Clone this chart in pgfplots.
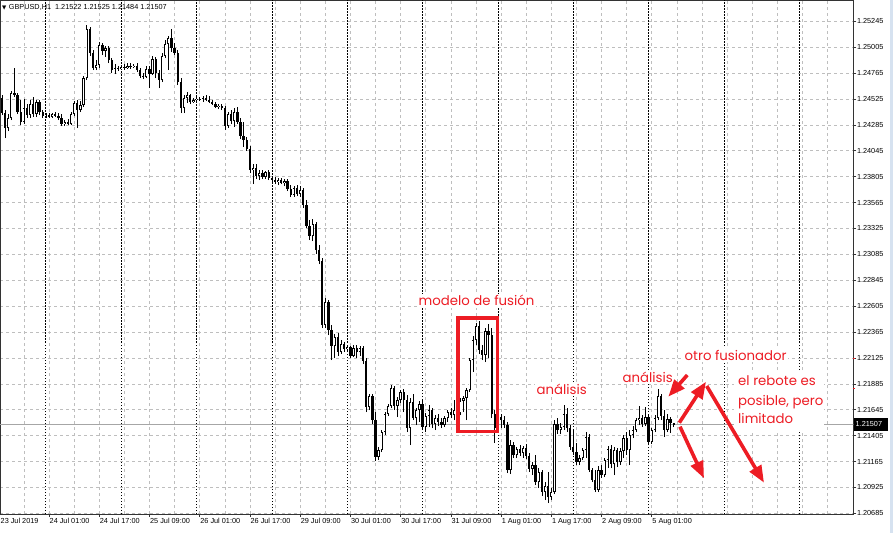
\documentclass[border=0pt]{standalone}
\usepackage{pgfplots}
\pgfplotsset{compat=1.18}
\usepackage{pgfplotstable}
\usepackage{fontspec}
\setmainfont{Liberation Sans}
\newfontfamily\pop{Poppins}
\newfontfamily\dejavu{DejaVu Sans}
\usetikzlibrary{arrows.meta}
\definecolor{mtred}{RGB}{237,28,36}
\definecolor{mtgrid}{RGB}{190,190,190}
\definecolor{winblue}{RGB}{214,226,240}

\pgfplotstableread{
i o h l c
-14 1.24534 1.24561 1.24376 1.24395
-13 1.24395 1.24422 1.24163 1.24255
-12 1.24255 1.24385 1.24228 1.24348
-11 1.24348 1.24598 1.24330 1.24580
-10 1.24580 1.24812 1.24543 1.24561
-9 1.24561 1.24580 1.24385 1.24404
-8 1.24404 1.24515 1.24283 1.24311
-7 1.24311 1.24524 1.24293 1.24441
-6 1.24441 1.24478 1.24348 1.24376
-5 1.24376 1.24515 1.24348 1.24478
-4 1.24478 1.24543 1.24357 1.24385
-3 1.24385 1.24515 1.24357 1.24496
-2 1.24496 1.24515 1.24376 1.24404
-1 1.24404 1.24422 1.24348 1.24367
0 1.24367 1.24395 1.24348 1.24376
1 1.24376 1.24395 1.24348 1.24357
2 1.24357 1.24395 1.24348 1.24385
3 1.24385 1.24404 1.24357 1.24367
4 1.24367 1.24395 1.24330 1.24348
5 1.24348 1.24385 1.24274 1.24293
6 1.24293 1.24330 1.24274 1.24311
7 1.24311 1.24339 1.24283 1.24293
8 1.24293 1.24404 1.24283 1.24385
9 1.24385 1.24506 1.24367 1.24487
10 1.24487 1.24515 1.24255 1.24422
11 1.24422 1.24506 1.24404 1.24469
12 1.24469 1.24737 1.24450 1.24719
13 1.24719 1.25210 1.24700 1.25173
14 1.25173 1.25192 1.24923 1.24951
15 1.24951 1.24979 1.24793 1.24812
16 1.24812 1.24886 1.24793 1.24839
17 1.24839 1.25053 1.24812 1.25025
18 1.25025 1.25043 1.24932 1.24969
19 1.24969 1.25016 1.24914 1.24997
20 1.24997 1.25016 1.24858 1.24886
21 1.24886 1.24904 1.24765 1.24793
22 1.24793 1.24849 1.24756 1.24812
23 1.24812 1.24830 1.24784 1.24802
24 1.24802 1.24839 1.24793 1.24821
25 1.24821 1.24849 1.24793 1.24812
26 1.24812 1.24858 1.24802 1.24830
27 1.24830 1.24858 1.24802 1.24821
28 1.24821 1.24849 1.24812 1.24830
29 1.24830 1.24858 1.24775 1.24793
30 1.24793 1.24812 1.24719 1.24737
31 1.24737 1.24765 1.24710 1.24728
32 1.24728 1.24830 1.24719 1.24802
33 1.24802 1.24830 1.24626 1.24756
34 1.24756 1.24923 1.24747 1.24895
35 1.24895 1.24914 1.24719 1.24765
36 1.24765 1.24793 1.24626 1.24700
37 1.24700 1.24951 1.24682 1.24923
38 1.24923 1.25071 1.24904 1.25034
39 1.25034 1.25108 1.24793 1.25090
40 1.25090 1.25173 1.24960 1.24997
41 1.24997 1.25043 1.24932 1.24951
42 1.24951 1.24979 1.24654 1.24682
43 1.24682 1.24719 1.24395 1.24441
44 1.24441 1.24561 1.24395 1.24534
45 1.24534 1.24589 1.24487 1.24561
46 1.24561 1.24571 1.24478 1.24496
47 1.24496 1.24534 1.24487 1.24515
48 1.24515 1.24543 1.24496 1.24524
49 1.24524 1.24543 1.24506 1.24515
50 1.24515 1.24552 1.24496 1.24534
51 1.24534 1.24561 1.24506 1.24515
52 1.24515 1.24552 1.24487 1.24496
53 1.24496 1.24515 1.24469 1.24478
54 1.24478 1.24496 1.24441 1.24450
55 1.24450 1.24478 1.24432 1.24459
56 1.24459 1.24478 1.24422 1.24441
57 1.24441 1.24459 1.24237 1.24274
58 1.24274 1.24404 1.24255 1.24385
59 1.24385 1.24422 1.24293 1.24320
60 1.24320 1.24441 1.24265 1.24404
61 1.24404 1.24450 1.24293 1.24311
62 1.24311 1.24348 1.24153 1.24181
63 1.24181 1.24311 1.24079 1.24144
64 1.24144 1.24172 1.24042 1.24061
65 1.24061 1.24089 1.23838 1.23866
66 1.23866 1.23922 1.23736 1.23885
67 1.23885 1.23922 1.23783 1.23810
68 1.23810 1.23866 1.23773 1.23838
69 1.23838 1.23866 1.23783 1.23801
70 1.23801 1.23857 1.23783 1.23848
71 1.23848 1.23866 1.23773 1.23792
72 1.23792 1.23810 1.23755 1.23773
73 1.23773 1.23801 1.23736 1.23755
74 1.23755 1.23792 1.23727 1.23773
75 1.23773 1.23792 1.23736 1.23746
76 1.23746 1.23783 1.23718 1.23764
77 1.23764 1.23783 1.23671 1.23690
78 1.23690 1.23727 1.23616 1.23634
79 1.23634 1.23718 1.23616 1.23699
80 1.23699 1.23727 1.23625 1.23644
81 1.23644 1.23718 1.23616 1.23681
82 1.23681 1.23699 1.23514 1.23542
83 1.23542 1.23588 1.23328 1.23347
84 1.23347 1.23403 1.23217 1.23254
85 1.23254 1.23412 1.23208 1.23366
86 1.23366 1.23384 1.23087 1.23125
87 1.23125 1.23171 1.22995 1.23023
88 1.23023 1.23050 1.22401 1.22429
89 1.22429 1.22680 1.22401 1.22642
90 1.22642 1.22661 1.22337 1.22383
91 1.22383 1.22429 1.22105 1.22235
92 1.22235 1.22346 1.22123 1.22318
93 1.22318 1.22355 1.22142 1.22179
94 1.22179 1.22290 1.22160 1.22253
95 1.22253 1.22272 1.22179 1.22207
96 1.22207 1.22244 1.22188 1.22225
97 1.22225 1.22235 1.22123 1.22142
98 1.22142 1.22244 1.22133 1.22216
99 1.22216 1.22244 1.22123 1.22179
100 1.22179 1.22235 1.22142 1.22216
101 1.22216 1.22235 1.22068 1.22096
102 1.22096 1.22123 1.21623 1.21669
103 1.21669 1.21790 1.21641 1.21771
104 1.21771 1.21790 1.21512 1.21549
105 1.21549 1.21623 1.21169 1.21206
106 1.21206 1.21298 1.21178 1.21271
107 1.21271 1.21456 1.21252 1.21437
108 1.21437 1.21623 1.21410 1.21604
109 1.21604 1.21697 1.21586 1.21678
110 1.21678 1.21873 1.21660 1.21845
111 1.21845 1.21864 1.21641 1.21678
112 1.21678 1.21762 1.21576 1.21734
113 1.21734 1.21827 1.21706 1.21808
114 1.21808 1.21836 1.21623 1.21734
115 1.21734 1.21780 1.21437 1.21474
116 1.21474 1.21753 1.21317 1.21715
117 1.21715 1.21790 1.21549 1.21567
118 1.21567 1.21660 1.21502 1.21641
119 1.21641 1.21725 1.21530 1.21697
120 1.21697 1.21734 1.21456 1.21484
121 1.21484 1.21614 1.21437 1.21586
122 1.21586 1.21688 1.21484 1.21641
123 1.21641 1.21660 1.21474 1.21512
124 1.21512 1.21595 1.21456 1.21567
125 1.21567 1.21604 1.21493 1.21530
126 1.21530 1.21567 1.21474 1.21502
127 1.21502 1.21586 1.21484 1.21567
128 1.21567 1.21641 1.21530 1.21623
129 1.21623 1.21660 1.21567 1.21595
130 1.21595 1.21734 1.21549 1.21641
131 1.21641 1.21688 1.21586 1.21614
132 1.21614 1.21753 1.21595 1.21725
133 1.21725 1.21771 1.21623 1.21753
134 1.21753 1.21845 1.21549 1.21827
135 1.21827 1.22123 1.21808 1.22105
136 1.22105 1.22327 1.21994 1.22290
137 1.22290 1.22448 1.22244 1.22420
138 1.22420 1.22466 1.22160 1.22198
139 1.22198 1.22244 1.22105 1.22151
140 1.22151 1.22401 1.22086 1.22374
141 1.22374 1.22439 1.22123 1.22337
142 1.22337 1.22401 1.21567 1.21604
143 1.21604 1.21641 1.21335 1.21474
144 1.21474 1.21595 1.21456 1.21576
145 1.21576 1.21604 1.21474 1.21549
146 1.21549 1.21586 1.21474 1.21502
147 1.21502 1.21530 1.21057 1.21085
148 1.21085 1.21363 1.21048 1.21317
149 1.21317 1.21345 1.21196 1.21224
150 1.21224 1.21298 1.21196 1.21280
151 1.21280 1.21317 1.21215 1.21243
152 1.21243 1.21308 1.21196 1.21289
153 1.21289 1.21326 1.21187 1.21215
154 1.21215 1.21243 1.21067 1.21094
155 1.21094 1.21159 1.21039 1.21131
156 1.21131 1.21224 1.20946 1.20974
157 1.20974 1.21104 1.20918 1.21067
158 1.21067 1.21085 1.20844 1.20881
159 1.20881 1.20974 1.20807 1.20937
160 1.20937 1.21067 1.20779 1.20835
161 1.20835 1.20918 1.20807 1.20881
162 1.20881 1.21549 1.20863 1.21512
163 1.21512 1.21567 1.21419 1.21456
164 1.21456 1.21521 1.21419 1.21484
165 1.21484 1.21688 1.21456 1.21604
166 1.21604 1.21660 1.21437 1.21474
167 1.21474 1.21502 1.21271 1.21298
168 1.21298 1.21456 1.21224 1.21252
169 1.21252 1.21335 1.21131 1.21159
170 1.21159 1.21224 1.21131 1.21196
171 1.21196 1.21289 1.21178 1.21271
172 1.21271 1.21437 1.21196 1.21391
173 1.21391 1.21419 1.21067 1.21085
174 1.21085 1.21104 1.20974 1.20992
175 1.20992 1.21085 1.20881 1.20900
176 1.20900 1.21122 1.20881 1.21085
177 1.21085 1.21131 1.21011 1.21039
178 1.21039 1.21196 1.21020 1.21178
179 1.21178 1.21308 1.21104 1.21280
180 1.21280 1.21317 1.21104 1.21141
181 1.21141 1.21298 1.21039 1.21271
182 1.21271 1.21289 1.21113 1.21159
183 1.21159 1.21289 1.21131 1.21261
184 1.21261 1.21410 1.21196 1.21382
185 1.21382 1.21437 1.21224 1.21271
186 1.21271 1.21456 1.21131 1.21410
187 1.21410 1.21493 1.21382 1.21456
188 1.21456 1.21567 1.21437 1.21549
189 1.21549 1.21678 1.21502 1.21567
190 1.21567 1.21595 1.21484 1.21512
191 1.21512 1.21669 1.21493 1.21576
192 1.21576 1.21595 1.21317 1.21345
193 1.21345 1.21474 1.21326 1.21456
194 1.21456 1.21595 1.21437 1.21567
195 1.21567 1.21836 1.21549 1.21771
196 1.21771 1.21790 1.21549 1.21586
197 1.21586 1.21641 1.21391 1.21456
198 1.21456 1.21604 1.21437 1.21558
199 1.21558 1.21576 1.21428 1.21522
200 1.21522 1.21525 1.21484 1.21507
}\candles

\begin{document}
\begin{tikzpicture}
\begin{axis}[
  at={(0pt,0pt)}, anchor=south west, scale only axis,
  width=853.3pt, height=514pt,
  xmin=-14.61, xmax=257.2,
  ymin=1.206785, ymax=1.254424,
  axis line style={black!80, line width=0.8pt},
  tick label style={font=\fontsize{7.3}{8}\selectfont, text=black},
  ytick={1.20685,1.20925,1.21165,1.21405,1.21645,1.21885,1.22125,1.22365,1.22605,1.22845,1.23085,1.23325,1.23565,1.23805,1.24045,1.24285,1.24525,1.24765,1.25005,1.25245},
  yticklabels={1.20685,1.20925,1.21165,1.21405,1.21645,1.21885,1.22125,1.22365,1.22605,1.22845,1.23085,1.23325,1.23565,1.23805,1.24045,1.24285,1.24525,1.24765,1.25005,1.25245},
  ytick pos=right, yticklabel pos=right,
  yticklabel style={anchor=west, inner sep=0pt, xshift=0.5pt},
  xtick={1,17,33,49,65,81,97,113,129,145,161,177,193},
  xticklabels={24 Jul 01:00,24 Jul 17:00,25 Jul 09:00,26 Jul 01:00,26 Jul 17:00,29 Jul 09:00,30 Jul 01:00,30 Jul 17:00,31 Jul 09:00,1 Aug 01:00,1 Aug 17:00,2 Aug 09:00,5 Aug 01:00},
  xtick pos=bottom,
  xticklabel style={anchor=north west, inner sep=0pt, xshift=0.5pt, yshift=-1.5pt},
  minor xtick={-7,9,25,41,57,73,89,105,121,137,153,169,185,201,209,217,225,233,241,249},
  tick align=outside, major tick length=3pt, minor tick length=0pt,
  tick style={black!80, line width=0.6pt},
  xmajorgrids, xminorgrids, ymajorgrids,
  major grid style={mtgrid, line width=0.6pt, dash pattern=on 3pt off 3pt},
  minor grid style={mtgrid, line width=0.6pt, dash pattern=on 3pt off 3pt},
  extra x ticks={0,24,48,72,96,120,144,168,192,216,240},
  extra x tick labels={},
  extra x tick style={major tick length=0pt, grid=major,
     major grid style={black, line width=0.8pt, dash pattern=on 1.5pt off 1.5pt}},
  colormap={bw}{color=(black) color=(white)},
]
% current price line
\addplot[black!35, line width=0.6pt, forget plot] coordinates {(-15,1.21507) (258,1.21507)};
% wicks: low to high
\addplot[black, line width=0.6pt, mark=none, forget plot,
  quiver={u=0, v=\thisrow{h}-\thisrow{l}, every arrow/.append style={-, line width=0.6pt, black}}]
  table[x=i, y=l] {\candles};
% bodies: open to close
\addplot[black, line width=2.3pt, mark=none, forget plot,
  quiver={u=0, v=\thisrow{c}-\thisrow{o}, every arrow/.append style={-, line width=2.3pt, black}}]
  table[x=i, y=o] {\candles};
% interior: white for rising candles, black for falling ones
\addplot[line width=0.9pt, mark=none, forget plot,
  point meta={\thisrow{c}-\thisrow{o}}, point meta min=-0.00001, point meta max=0.00001,
  quiver={u=0, v=\thisrow{c}-\thisrow{o}, colored=mapped color,
    every arrow/.append style={-, line width=0.9pt, shorten <=0.7pt, shorten >=0.7pt}}]
  table[x=i, y=o] {\candles};
\end{axis}
\begin{scope}[x=1pt, y=1pt]
  % right window strip
  \fill[winblue] (889.5,-19) rectangle (893,514);
  % small red marks on the price scale
  \draw[mtred, line width=1pt] (852.6,156) -- (855,156);
  \draw[mtred, line width=1pt] (852.6,126) -- (855,126);
  % header
  \node[anchor=base west, inner sep=0pt, font=\fontsize{7.3}{8}\selectfont] at (2,504.5)
    {{\dejavu\fontsize{5.5}{6}\selectfont ▼}\hspace{2.5pt}GBPUSD,H1\hspace{4pt}1.21522 1.21525 1.21484 1.21507};
  % first date label
  \node[anchor=north west, inner sep=0pt, font=\fontsize{7.3}{8}\selectfont] at (0.5,-4.5) {23 Jul 2019};
  % current price box
  \fill[black] (853.8,83.2) rectangle (887.5,96.2);
  \node[anchor=west, inner sep=0pt, text=white, font=\fontsize{7.3}{8}\selectfont] at (855.5,89.6) {1.21507};
  % annotations
  \draw[mtred, line width=3.6pt] (458,82.7) rectangle (497.3,196);
  \begin{scope}[font=\pop\fontsize{13.3}{15}\selectfont, text=mtred]
    \node[anchor=base west, fill=white, inner sep=1.5pt] at (417,208) {modelo de fusión};
    \node[anchor=base west, fill=white, inner sep=1.5pt] at (535,119.3) {análisis};
    \node[anchor=base west, fill=white, inner sep=1.5pt] at (621,131.3) {análisis};
    \node[anchor=base west, fill=white, inner sep=1.5pt] at (683,154) {otro fusionador};
    \fill[white] (734,84) rectangle (824,143);
    \node[anchor=base west, inner sep=0pt] at (738,128.3) {el rebote es};
    \node[anchor=base west, inner sep=0pt] at (738,109) {posible, pero};
    \node[anchor=base west, inner sep=0pt] at (738,90.3) {limitado};
  \end{scope}
  \begin{scope}[mtred, line width=3.6pt, -{Triangle[length=17pt,width=13pt]}]
    \draw (687.3,139) -- (668.3,117.3);
    \draw (679.3,91.3) -- (706,132.3);
    \draw (706.7,128) -- (764,31.3);
    \draw (680,87.3) -- (704,35.7);
  \end{scope}
\end{scope}
\pgfresetboundingbox
\useasboundingbox (0pt,-19pt) rectangle (893pt,514pt);
\end{tikzpicture}
\end{document}
